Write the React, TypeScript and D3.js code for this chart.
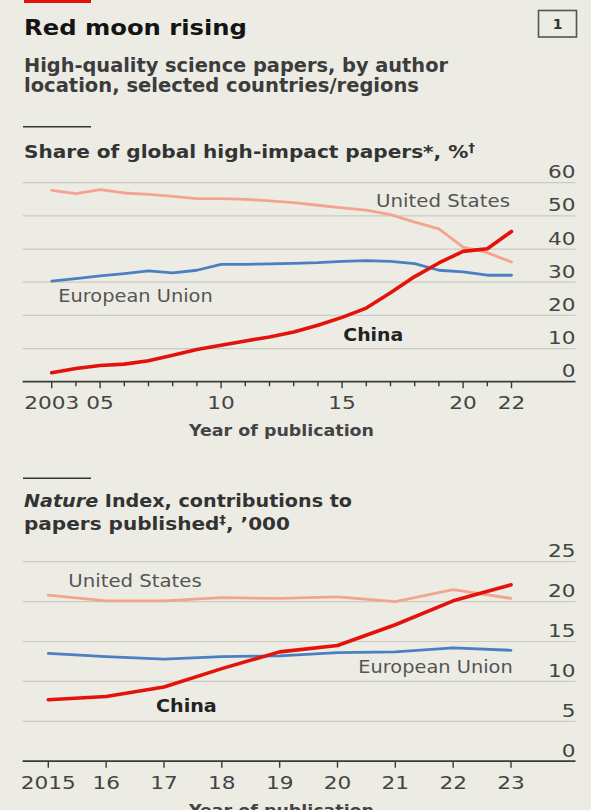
import React from "react";
import * as d3 from "d3";

// ---- Data: top panel (share of global high-impact papers, %) ----
const yearsA = [2003, 2004, 2005, 2006, 2007, 2008, 2009, 2010, 2011, 2012, 2013, 2014, 2015, 2016, 2017, 2018, 2019, 2020, 2021, 2022];
const usA = [57.7, 56.7, 57.9, 56.9, 56.5, 55.9, 55.2, 55.2, 55.0, 54.5, 54.0, 53.2, 52.4, 51.7, 50.4, 48.1, 46.1, 40.6, 38.9, 36.1];
const euA = [30.3, 31.1, 31.9, 32.6, 33.4, 32.8, 33.6, 35.4, 35.4, 35.5, 35.7, 35.9, 36.3, 36.5, 36.3, 35.6, 33.6, 33.1, 32.1, 32.1];
const cnA = [2.7, 4.0, 4.9, 5.3, 6.3, 8.0, 9.7, 11.0, 12.3, 13.5, 15.0, 17.0, 19.4, 22.2, 26.8, 31.7, 35.8, 39.3, 40.1, 45.3];
const yTicksA = [0, 10, 20, 30, 40, 50, 60];
const xLabelsA: [number, string][] = [[2003, "2003"], [2005, "05"], [2010, "10"], [2015, "15"], [2020, "20"], [2022, "22"]];

// ---- Data: bottom panel (Nature Index contributions, '000) ----
const yearsB = [2015, 2016, 2017, 2018, 2019, 2020, 2021, 2022, 2023];
const usB = [20.8, 20.1, 20.1, 20.5, 20.4, 20.6, 20.0, 21.5, 20.4];
const euB = [13.5, 13.1, 12.8, 13.1, 13.2, 13.6, 13.7, 14.2, 13.9];
const cnB = [7.7, 8.1, 9.3, 11.6, 13.7, 14.5, 17.1, 20.1, 22.1];
const yTicksB = [0, 5, 10, 15, 20, 25];
const xLabelsB: [number, string][] = [[2015, "2015"], [2016, "16"], [2017, "17"], [2018, "18"], [2019, "19"], [2020, "20"], [2021, "21"], [2022, "22"], [2023, "23"]];

const BG = "#ECECE4";
const RED = "#E3120B";
const US_C = "#F4A48E";
const EU_C = "#4A80C2";
const GRID = "#CBCBC4";
const AXIS = "#3a3a3a";
const TXT = "#444";
const FONT = "'DejaVu Sans', sans-serif";

const GRID_X0 = 22.6;
const GRID_X1 = 575.5;

type Label = { text: string; x: number; y: number; w: number; bold?: boolean };

function Panel(props: {
  years: number[];
  us: number[];
  eu: number[];
  cn: number[];
  yTicks: number[];
  xLabels: [number, string][];
  xRange: [number, number];
  yRange: [number, number];
  yMax: number;
  labels: Label[];
}) {
  const { years, us, eu, cn, yTicks, xLabels, xRange, yRange, yMax, labels } = props;
  const x = d3.scaleLinear().domain([years[0], years[years.length - 1]]).range(xRange);
  const y = d3.scaleLinear().domain([0, yMax]).range(yRange);
  const line = d3
    .line<number>()
    .x((_, i) => x(years[i]))
    .y((v) => y(v))
    .curve(d3.curveLinear);
  const labeled = new Set(xLabels.map((d) => d[0]));
  const base = y(0);
  return (
    <g>
      {yTicks.map((t) => (
        <g key={t}>
          {t !== 0 && (
            <line x1={GRID_X0} x2={GRID_X1} y1={y(t)} y2={y(t)} stroke={GRID} strokeWidth={1.2} />
          )}
          <text
            transform={`translate(${GRID_X1},${y(t) - 4.5}) scale(1.27,1)`}
            textAnchor="end"
            fontFamily={FONT}
            fontSize={17}
            fill={TXT}
          >
            {t}
          </text>
        </g>
      ))}
      <path d={line(us) || ""} fill="none" stroke={US_C} strokeWidth={2.8} strokeLinejoin="round" strokeLinecap="round" />
      <path d={line(eu) || ""} fill="none" stroke={EU_C} strokeWidth={2.8} strokeLinejoin="round" strokeLinecap="round" />
      <path d={line(cn) || ""} fill="none" stroke={RED} strokeWidth={3.6} strokeLinejoin="round" strokeLinecap="round" />
      <line x1={GRID_X0} x2={GRID_X1} y1={base} y2={base} stroke={AXIS} strokeWidth={1.8} />
      {years.map((yr) => (
        <line
          key={yr}
          x1={x(yr)}
          x2={x(yr)}
          y1={base}
          y2={base + (labeled.has(yr) ? 6.5 : 4.5)}
          stroke={AXIS}
          strokeWidth={1.4}
        />
      ))}
      {xLabels.map(([yr, s]) => (
        <text
          key={yr}
          transform={`translate(${x(yr)},${base + 27.5}) scale(1.27,1)`}
          textAnchor="middle"
          fontFamily={FONT}
          fontSize={17}
          fill={TXT}
        >
          {s}
        </text>
      ))}
      <text
        x={281.5}
        y={base + 54.5}
        textAnchor="middle"
        fontFamily={FONT}
        fontSize={16}
        fontWeight="bold"
        fill="#444"
        textLength={185}
        lengthAdjust="spacingAndGlyphs"
      >
        Year of publication
      </text>
      {labels.map((l) => (
        <text
          key={l.text}
          x={l.x}
          y={l.y}
          fontFamily={FONT}
          fontSize={17}
          fontWeight={l.bold ? "bold" : "normal"}
          fill={l.bold ? "#222" : "#555"}
          textLength={l.w}
          lengthAdjust="spacingAndGlyphs"
        >
          {l.text}
        </text>
      ))}
    </g>
  );
}

export default function App() {
  return (
    <div style={{ position: "absolute", left: 0, top: 0 }}>
      <svg width={591} height={810} style={{ display: "block" }}>
        <rect x={0} y={0} width={591} height={810} fill={BG} />
        <rect x={24} y={0} width={67} height={3} fill={RED} />
        <text x={24} y={35} fontFamily={FONT} fontSize={22} fontWeight="bold" fill="#141414" textLength={223} lengthAdjust="spacingAndGlyphs">
          Red moon rising
        </text>
        <rect x={538.5} y={10.5} width={38} height={26.5} fill="none" stroke="#555" strokeWidth={1.6} />
        <text x={557.5} y={29} textAnchor="middle" fontFamily={FONT} fontSize={14} fontWeight="bold" fill="#333">
          1
        </text>
        <text x={24} y={71.7} fontFamily={FONT} fontSize={19} fontWeight="bold" fill="#3c3c3c" textLength={424} lengthAdjust="spacingAndGlyphs">
          High-quality science papers, by author
        </text>
        <text x={24} y={91.7} fontFamily={FONT} fontSize={19} fontWeight="bold" fill="#3c3c3c" textLength={395} lengthAdjust="spacingAndGlyphs">
          location, selected countries/regions
        </text>

        <line x1={23} x2={91} y1={126.7} y2={126.7} stroke="#333" strokeWidth={1.6} />
        <text x={24} y={158} fontFamily={FONT} fontSize={18} fontWeight="bold" fill="#333" textLength={451} lengthAdjust="spacingAndGlyphs">
          Share of global high-impact papers*, %<tspan fontSize={12} dy={-6}>†</tspan>
        </text>

        <Panel
          years={yearsA}
          us={usA}
          eu={euA}
          cn={cnA}
          yTicks={yTicksA}
          xLabels={xLabelsA}
          xRange={[51.7, 511.5]}
          yRange={[381.7, 182.7]}
          yMax={60}
          labels={[
            { text: "United States", x: 376, y: 207.3, w: 134 },
            { text: "European Union", x: 58.3, y: 302.3, w: 154.4 },
            { text: "China", x: 343.3, y: 340.7, w: 60, bold: true },
          ]}
        />

        <line x1={23} x2={91} y1={478.3} y2={478.3} stroke="#333" strokeWidth={1.6} />
        <text x={24} y={506.7} fontFamily={FONT} fontSize={18} fontWeight="bold" fill="#333" textLength={328} lengthAdjust="spacingAndGlyphs">
          <tspan fontStyle="italic">Nature</tspan> Index, contributions to
        </text>
        <text x={24} y={530} fontFamily={FONT} fontSize={18} fontWeight="bold" fill="#333" textLength={266} lengthAdjust="spacingAndGlyphs">
          papers published<tspan fontSize={12} dy={-6}>‡</tspan><tspan dy={6}>, ’000</tspan>
        </text>

        <Panel
          years={yearsB}
          us={usB}
          eu={euB}
          cn={cnB}
          yTicks={yTicksB}
          xLabels={xLabelsB}
          xRange={[48.3, 511]}
          yRange={[761.2, 561.7]}
          yMax={25}
          labels={[
            { text: "United States", x: 68.3, y: 587.3, w: 133.4 },
            { text: "European Union", x: 358.3, y: 673.3, w: 154.4 },
            { text: "China", x: 156, y: 711.7, w: 60.7, bold: true },
          ]}
        />
      </svg>
    </div>
  );
}
